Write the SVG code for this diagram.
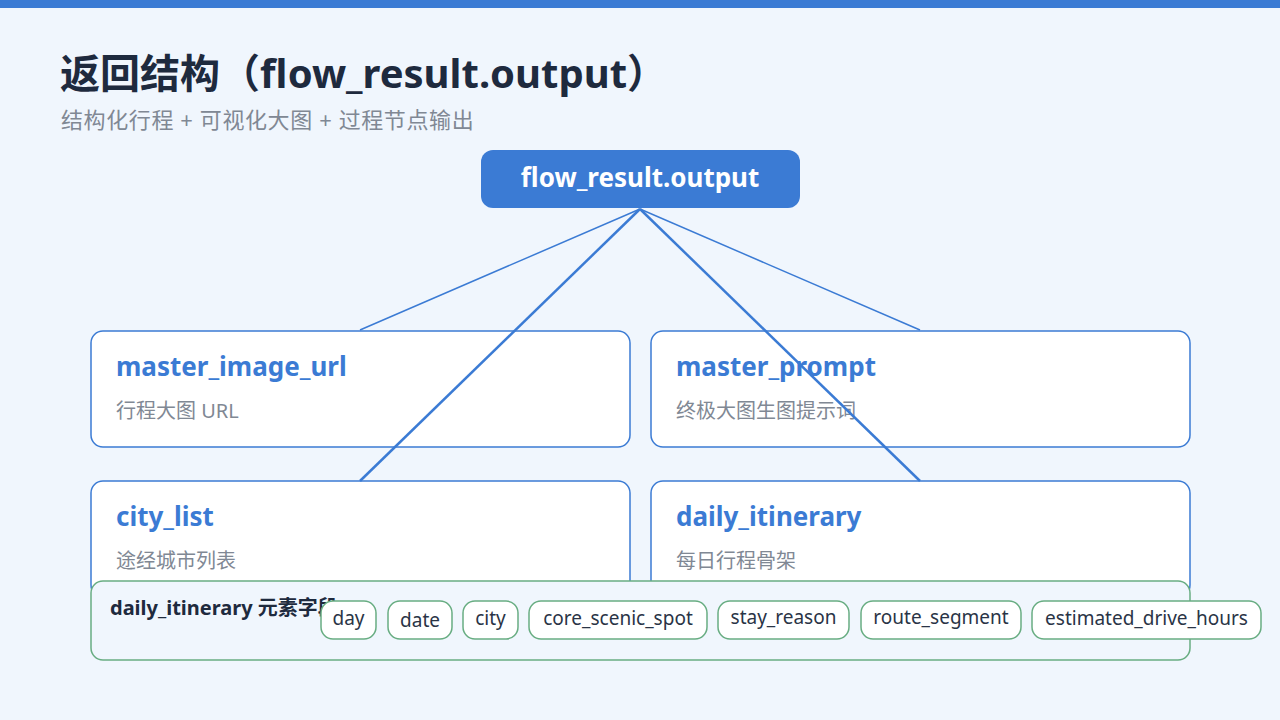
<svg xmlns="http://www.w3.org/2000/svg" width="1280" height="720" viewBox="0 0 1280 720">
<style>
text{font-family:"Noto Sans","Noto Sans CJK SC",sans-serif;}
.card{fill:#ffffff;stroke:#3b7bd4;stroke-width:1.5;}
.ct{fill:#3b7bd4;font-size:26px;font-weight:700;}
.cs{fill:#808894;font-size:20px;}
.chip{fill:#ffffff;stroke:#68ad82;stroke-width:1.5;}
.chipt{fill:#2a3446;font-size:19px;text-anchor:middle;}
.ln{stroke:#3b7bd4;fill:none;}
</style>
<rect x="0" y="0" width="1280" height="720" fill="#f0f6fd"/>
<rect x="0" y="0" width="1280" height="8" fill="#3b7bd4"/>
<text x="60" y="88" font-size="40" font-weight="700" fill="#1e2a3e">返回结构（flow_result.output）</text>
<text x="61" y="128" font-size="22" fill="#808894" letter-spacing="0.6">结构化行程 + 可视化大图 + 过程节点输出</text>

<g id="root">
<rect x="481" y="150" width="319" height="58" rx="12" fill="#3b7bd4"/>
<text x="640" y="187" font-size="26" font-weight="700" fill="#ffffff" text-anchor="middle">flow_result.output</text>
</g>

<g id="master_image_url">
<rect class="card" x="91" y="331" width="539" height="116" rx="12"/>
<text class="ct" x="116" y="376">master_image_url</text>
<text class="cs" x="116" y="418">行程大图 URL</text>
</g>
<g id="master_prompt">
<rect class="card" x="651" y="331" width="539" height="116" rx="12"/>
<text class="ct" x="676" y="376">master_prompt</text>
<text class="cs" x="676" y="418">终极大图生图提示词</text>
</g>
<g id="city_list">
<rect class="card" x="91" y="481" width="539" height="116" rx="12"/>
<text class="ct" x="116" y="526">city_list</text>
<text class="cs" x="116" y="568">途经城市列表</text>
</g>
<g id="daily_itinerary">
<rect class="card" x="651" y="481" width="539" height="116" rx="12"/>
<text class="ct" x="676" y="526">daily_itinerary</text>
<text class="cs" x="676" y="568">每日行程骨架</text>
</g>

<g id="connectors">
<line class="ln" x1="640" y1="209" x2="360" y2="330" stroke-width="1.5"/>
<line class="ln" x1="640" y1="209" x2="920" y2="330" stroke-width="1.5"/>
<line class="ln" x1="640" y1="209" x2="360" y2="481" stroke-width="2.5"/>
<line class="ln" x1="640" y1="209" x2="920" y2="481" stroke-width="2.5"/>
</g>

<g id="fields">
<rect x="91" y="581" width="1099" height="79" rx="12" fill="#f0f6fd" stroke="#68ad82" stroke-width="1.5"/>
<text x="110" y="615" font-size="20" font-weight="700" fill="#1e2a3e">daily_itinerary 元素字段</text>
<rect class="chip" x="321" y="601" width="55" height="38" rx="12"/>
<text class="chipt" x="348.5" y="625">day</text>
<rect class="chip" x="388" y="601" width="64" height="38" rx="12"/>
<text class="chipt" x="420" y="627">date</text>
<rect class="chip" x="463" y="601" width="55" height="38" rx="12"/>
<text class="chipt" x="490.5" y="625">city</text>
<rect class="chip" x="529" y="601" width="178" height="38" rx="12"/>
<text class="chipt" x="618" y="625">core_scenic_spot</text>
<rect class="chip" x="718" y="601" width="131" height="38" rx="12"/>
<text class="chipt" x="783.5" y="624">stay_reason</text>
<rect class="chip" x="861" y="601" width="160" height="38" rx="12"/>
<text class="chipt" x="941" y="624">route_segment</text>
<rect class="chip" x="1032" y="601" width="229" height="38" rx="12"/>
<text class="chipt" x="1146.5" y="625">estimated_drive_hours</text>
</g>
</svg>
